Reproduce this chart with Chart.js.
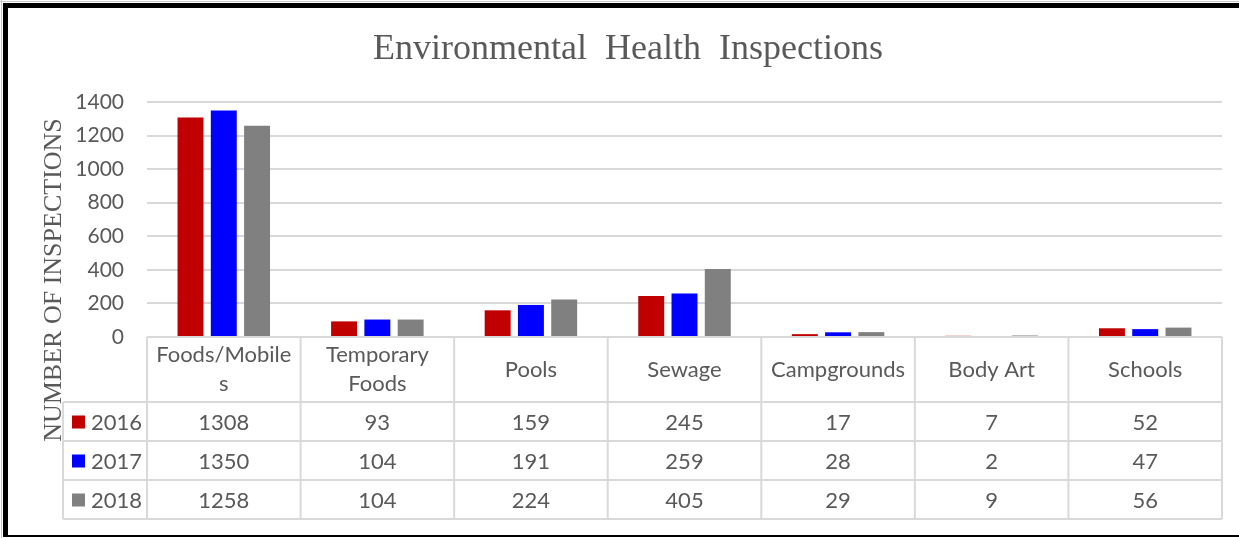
<!DOCTYPE html>
<html>
<head>
<meta charset="utf-8">
<script src="https://cdn.jsdelivr.net/npm/chart.js@4.4.1/dist/chart.umd.min.js"></script>
<style>
  html, body { margin: 0; padding: 0; background: #fff; }
  #wrap { position: relative; width: 1239px; height: 538px; }
</style>
</head>
<body>
<div id="wrap"><canvas id="inspChart"></canvas></div>
<script>
var chartTitle = 'Environmental  Health  Inspections';
var yTitle = 'NUMBER OF INSPECTIONS';
var categories = [['Foods/Mobile', 's'], ['Temporary', 'Foods'], 'Pools', 'Sewage', 'Campgrounds', 'Body Art', 'Schools'];
var years = ['2016', '2017', '2018'];
var counts2016 = [1308, 93, 159, 245, 17, 7, 52];
var counts2017 = [1350, 104, 191, 259, 28, 2, 47];
var counts2018 = [1258, 104, 224, 405, 29, 9, 56];
var yTicks = [0, 200, 400, 600, 800, 1000, 1200, 1400];
var colors = ['#c00000', '#0000ff', '#808080'];

var textGray = '#595959';
var lineGray = '#d9d9d9';
var sansFont = 'Lato';
var serifFont = '"Liberation Serif"';

// draws the frame, both titles and the data table under the plot
var extrasPlugin = {
    id: 'extras',
    afterDraw: function (chart) {
        var ctx = chart.ctx;
        var area = chart.chartArea;
        var xs = chart.scales.x;
        var series = chart.data.datasets;
        var colW = (area.right - area.left) / categories.length;
        var headH = 65, rowH = 39, legendLeft = 63;
        var top = area.bottom;
        var bottom = top + headH + rowH * series.length;

        ctx.save();

        // grid of the table
        ctx.strokeStyle = lineGray;
        ctx.lineWidth = 2;
        ctx.beginPath();
        ctx.moveTo(area.left, top); ctx.lineTo(area.right, top);
        for (var r = 0; r <= series.length; r++) {
            var y = top + headH + r * rowH;
            ctx.moveTo(legendLeft, y); ctx.lineTo(area.right, y);
        }
        ctx.moveTo(legendLeft, top + headH); ctx.lineTo(legendLeft, bottom);
        for (var c = 0; c <= categories.length; c++) {
            var x = area.left + c * colW;
            ctx.moveTo(x, top); ctx.lineTo(x, bottom);
        }
        ctx.stroke();

        // header + values
        ctx.fillStyle = textGray;
        ctx.font = '22px ' + sansFont;
        ctx.textAlign = 'center';
        ctx.textBaseline = 'middle';
        categories.forEach(function (cat, i) {
            var cx = xs.getPixelForValue(i);
            var lines = Array.isArray(cat) ? cat : [cat];
            var midY = top + headH / 2;
            lines.forEach(function (ln, k) {
                ctx.fillText(ln, cx, midY + (k - (lines.length - 1) / 2) * 29);
            });
            series.forEach(function (ds, j) {
                ctx.fillText(String(ds.data[i]), cx, top + headH + j * rowH + rowH / 2 + 1);
            });
        });

        // legend keys in the first column
        ctx.textAlign = 'left';
        series.forEach(function (ds, j) {
            var cy = top + headH + j * rowH + rowH / 2;
            ctx.fillStyle = ds.backgroundColor;
            ctx.fillRect(72, cy - 6, 13, 13);
            ctx.fillStyle = textGray;
            ctx.fillText(ds.label, 91, cy + 1);
        });

        // titles
        ctx.textAlign = 'center';
        ctx.font = '36px ' + serifFont;
        ctx.fillText(chartTitle, 628, 50);
        ctx.translate(54, 280);
        ctx.rotate(-Math.PI / 2);
        ctx.font = '26px ' + serifFont;
        ctx.fillText(yTitle, 0, 0);
        ctx.restore();

        // black frame of the screenshot
        ctx.save();
        ctx.fillStyle = '#c8c8c8';
        ctx.fillRect(0, 1, chart.width, 1);
        ctx.fillRect(1, 0, 1, chart.height);
        ctx.fillStyle = '#000';
        ctx.fillRect(3, 3, chart.width - 3, 5);
        ctx.fillRect(3, 3, 5, chart.height - 6);
        ctx.fillRect(3, 535, chart.width - 3, 2);
        ctx.restore();
    }
};

new Chart(document.getElementById('inspChart').getContext('2d'), {
    type: 'bar',
    data: {
        labels: categories,
        datasets: [
            { label: years[0], data: counts2016, backgroundColor: colors[0] },
            { label: years[1], data: counts2017, backgroundColor: colors[1] },
            { label: years[2], data: counts2018, backgroundColor: colors[2] }
        ]
    },
    options: {
        responsive: true,
        maintainAspectRatio: false,
        animation: false,
        categoryPercentage: 0.65,
        barPercentage: 0.78,
        layout: {
            padding: { top: 102, bottom: 201, left: 0, right: 17 }
        },
        plugins: {
            legend: { display: false },
            title: { display: false },
            tooltip: { enabled: false }
        },
        scales: {
            x: { display: false },
            y: {
                min: yTicks[0],
                max: yTicks[yTicks.length - 1],
                afterBuildTicks: function (scale) {
                    scale.ticks = yTicks.map(function (v) { return { value: v }; });
                },
                afterFit: function (scale) {
                    scale.width = 147;
                },
                border: { display: false },
                grid: { color: lineGray, lineWidth: 2, drawTicks: false },
                ticks: {
                    padding: 23,
                    color: textGray,
                    font: { family: sansFont, size: 21 },
                    callback: function (v) { return String(v); }
                }
            }
        }
    },
    plugins: [extrasPlugin]
});
</script>
</body>
</html>
